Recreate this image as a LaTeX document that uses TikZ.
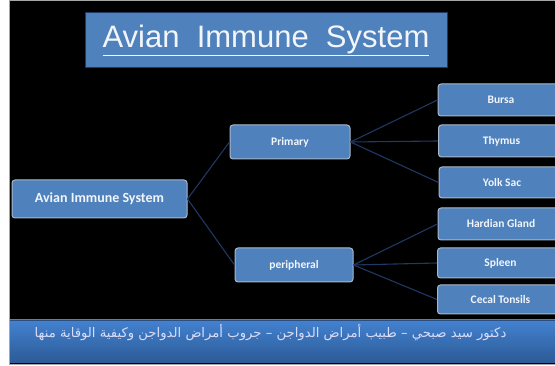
\documentclass[tikz,border=0pt]{standalone}
\usepackage{fontspec}
\TeXXeTstate=1
\setmainfont{Carlito}
\newfontfamily\titlefont{Liberation Sans}
\newfontfamily\arabicfont[Script=Arabic]{DejaVu Sans}
\definecolor{boxblue}{HTML}{4F81BD}
\definecolor{boxedge}{HTML}{A9B8C8}
\definecolor{linkcol}{HTML}{1F3864}
\definecolor{txtcol}{HTML}{F2F5FA}
\definecolor{foottop}{HTML}{4382D0}
\definecolor{footbot}{HTML}{2C5A96}
\definecolor{footline}{HTML}{2A4F80}
\tikzset{
  x=1pt,y=1pt,
  blk/.style={draw=boxedge, line width=1pt, fill=boxblue, rounded corners=3pt,
    text=txtcol, font=\bfseries\fontsize{11.5}{13}\selectfont, inner sep=0pt},
  leaf/.style={blk, minimum width=126pt},
  link/.style={draw=linkcol, line width=1.1pt},
}
\begin{document}
\begin{tikzpicture}
\useasboundingbox (0,0) rectangle (555,-366);
\clip (0,0) rectangle (555,-366);
\fill[white] (0,0) rectangle (555,-366);
\fill[black] (10,-1) rectangle (555,-364);
\draw[gray!70, line width=1pt] (9.5,-0.5) -- (9.5,-364.5) -- (555,-364.5);
\draw[gray!70, line width=1pt] (9.5,-0.5) -- (555,-0.5);
% footer
\shade[top color=foottop, bottom color=footbot] (10,-320) rectangle (555,-363);
\draw[footline, line width=1pt] (10,-320.5) -- (555,-320.5);
\node[text=txtcol!90!blue, font=\arabicfont\fontsize{13.2}{15}\selectfont, inner sep=0pt]
  (footer) at (270.5,-333) {\beginR دكتور سيد صبحي – طبيب أمراض الدواجن – جروب أمراض الدواجن وكيفية الوقاية منها\endR};
% title
\node[draw=linkcol, line width=1pt, fill=boxblue, minimum width=362pt, minimum height=55pt,
  inner sep=0pt, text=txtcol, font=\titlefont\fontsize{31}{35}\selectfont]
  (title) at (266,-40.5) {\underline{Avian\ \ Immune\ \ System}};
% nodes
\node[blk, minimum width=175pt, minimum height=38pt, font=\bfseries\fontsize{14}{16}\selectfont]
  (root) at (99.5,-199) {Avian Immune System};
\node[blk, minimum width=120pt, minimum height=34pt] (prim) at (290,-142) {Primary};
\node[blk, minimum width=118pt, minimum height=34pt] (peri) at (294,-265) {peripheral};
\node[leaf, minimum height=32pt] (bursa) at (501,-100) {Bursa};
\node[leaf, minimum height=32pt] (thymus) at (501.5,-141) {Thymus};
\node[leaf, minimum height=31pt] (yolk) at (502,-182.5) {Yolk Sac};
\node[leaf, minimum height=32pt] (hard) at (501,-224) {Hardian Gland};
\node[leaf, minimum height=30pt] (spleen) at (500.5,-263) {Spleen};
\node[leaf, minimum height=29pt] (cecal) at (500.5,-299.5) {Cecal Tonsils};
% links
\draw[link] (root.east) -- (prim.west);
\draw[link] (root.east) -- (peri.west);
\draw[link] (prim.east) -- (bursa.west);
\draw[link] (prim.east) -- (thymus.west);
\draw[link] (prim.east) -- (yolk.west);
\draw[link] (peri.east) -- (hard.west);
\draw[link] (peri.east) -- (spleen.west);
\draw[link] (peri.east) -- (cecal.west);
\end{tikzpicture}
\end{document}
